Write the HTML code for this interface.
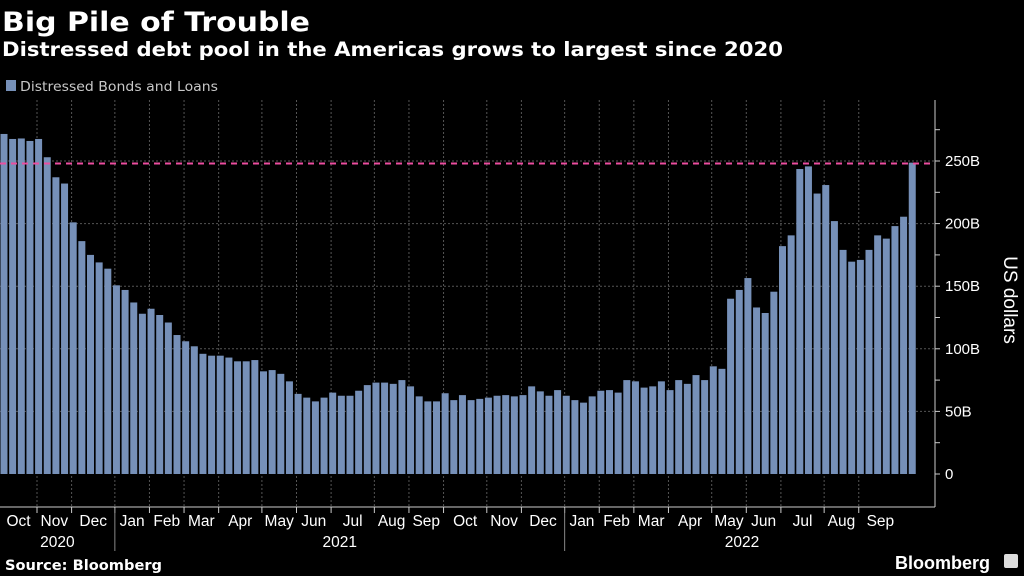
<!DOCTYPE html>
<html><head><meta charset="utf-8"><style>
html,body{margin:0;padding:0;background:#000;width:1024px;height:576px;overflow:hidden}
svg{display:block;font-family:"Liberation Sans",sans-serif}
</style></head><body>
<svg id="chart" width="1024" height="576" viewBox="0 0 1024 576">
<rect x="0" y="0" width="1024" height="576" fill="#000"/>
<text x="2" y="31" fill="#fff" font-size="27" font-weight="bold" font-family="DejaVu Sans, sans-serif" textLength="308" lengthAdjust="spacingAndGlyphs">Big Pile of Trouble</text>
<text x="2" y="56" fill="#fff" font-size="19.5" font-weight="bold" font-family="DejaVu Sans, sans-serif" textLength="781" lengthAdjust="spacingAndGlyphs">Distressed debt pool in the Americas grows to largest since 2020</text>
<rect x="6" y="80" width="10" height="11" fill="#7690b8"/>
<text x="20" y="91" fill="#c8c8c8" font-size="13.5" font-family="DejaVu Sans, sans-serif" textLength="198" lengthAdjust="spacingAndGlyphs">Distressed Bonds and Loans</text>
<g id="grid"></g><g id="bars"></g><g id="axes"></g>
<text x="5" y="570" fill="#fff" font-size="14" font-weight="bold" font-family="DejaVu Sans, sans-serif" textLength="157" lengthAdjust="spacingAndGlyphs">Source: Bloomberg</text>
<text x="895" y="569" fill="#fff" font-size="18" font-weight="bold">Bloomberg</text>
<rect x="1004" y="554" width="14" height="14" rx="2" fill="#ddd"/>
<text transform="translate(1004,300) rotate(90)" text-anchor="middle" fill="#fff" font-size="19">US dollars</text>
</svg>
<script>
const values=[271.6,267.6,268,266,267.6,253,237,232,201,186,175,169,164,150.7,147,137,128,132,127,121,111,106,102,96,94.5,94.5,93,90,90,91,82,83,80,74,64,61,58,61,65,62.5,62.5,66.5,71,73,73,72,75,70,62,58,58,64.5,59,63,59,60,61,62.5,63,62,63,70,66,62.5,67,62.5,59,57,62,66.5,67,65,75,74,69,70,74,67,75,72,79,75,86,84,140,147,156.5,133,128.6,145.6,182,190.6,243.6,245.7,224,230.8,202,179,169.6,171,179,190.6,188,198,205.5,248.7];
const monthLabels=["Oct","Nov","Dec","Jan","Feb","Mar","Apr","May","Jun","Jul","Aug","Sep","Oct","Nov","Dec","Jan","Feb","Mar","Apr","May","Jun","Jul","Aug","Sep"];
const monthStarts=[0,4,8,13,17,21,25,30,34,38,43,47,51,56,60,65,69,73,77,82,86,90,95,99,104];
const yearLabels=["2020","2021","2022"];
const yearStarts=[0,13,65,106];
const yTicks=[0,50,100,150,200,250];
const yTickLabels=["0","50B","100B","150B","200B","250B"];
const refValue=248;
const NS="http://www.w3.org/2000/svg";
const pitch=8.65;
function yS(v){return 474-1.252*v;}
function xBar(i){return 0.5+pitch*i;}
function xB(i){return i===0?0:2.4+pitch*i;}
function mk(p,tag,a){const e=document.createElementNS(NS,tag);for(const k in a)e.setAttribute(k,a[k]);p.appendChild(e);return e;}
const grid=document.getElementById('grid'),bars=document.getElementById('bars'),axes=document.getElementById('axes');
yTicks.forEach((t,i)=>{if(t===0)return;const l=mk(grid,'line',{x1:0,x2:935,y1:yS(t),y2:yS(t),stroke:'#555','stroke-width':1,'stroke-dasharray':'2,2'});

});
monthStarts.forEach((m,i)=>{if(i===0||i===monthStarts.length-1)return;const l=mk(grid,'line',{x1:xB(m),x2:xB(m),y1:100,y2:507,stroke:'#555','stroke-width':1,'stroke-dasharray':'2,2'});

});
values.forEach((v,i)=>{const r=mk(bars,'rect',{x:xBar(i),y:yS(v),width:7,height:yS(0)-yS(v),fill:'#7690b8'});

});
const ref=mk(axes,'line',{x1:0,x2:935,y1:yS(refValue),y2:yS(refValue),stroke:'#ec4ea0','stroke-width':2,'stroke-dasharray':'6,5'});


const ya=mk(axes,'line',{x1:935,x2:935,y1:100,y2:507,stroke:'#ccc','stroke-width':1});


for(let t=0;t<=275;t+=25){const k=mk(axes,'line',{x1:935,x2:940,y1:yS(t),y2:yS(t),stroke:'#ccc'});

}
yTicks.forEach((t,i)=>{const tx=mk(axes,'text',{x:945,y:yS(t)+5,fill:'#fff','font-size':15});tx.textContent=yTickLabels[i];

});
const xa=mk(axes,'line',{x1:0,x2:935,y1:507,y2:507,stroke:'#ccc'});


monthLabels.forEach((m,i)=>{const a=xB(monthStarts[i]),b=xB(monthStarts[i+1]);
if(i>0){const k=mk(axes,'line',{x1:a,x2:a,y1:507,y2:513,stroke:'#ccc'});

}
const tx=mk(axes,'text',{x:(a+b)/2,y:526,fill:'#fff','font-size':15.5,'text-anchor':'middle'});tx.textContent=m;

});
yearLabels.forEach((y,i)=>{const a=xB(yearStarts[i]),b=xB(yearStarts[i+1]);
if(i>0){const k=mk(axes,'line',{x1:a,x2:a,y1:508,y2:551,stroke:'#888'});

}
const tx=mk(axes,'text',{x:(a+b)/2,y:547,fill:'#fff','font-size':15.5,'text-anchor':'middle'});tx.textContent=y;

});
</script>
</body></html>
